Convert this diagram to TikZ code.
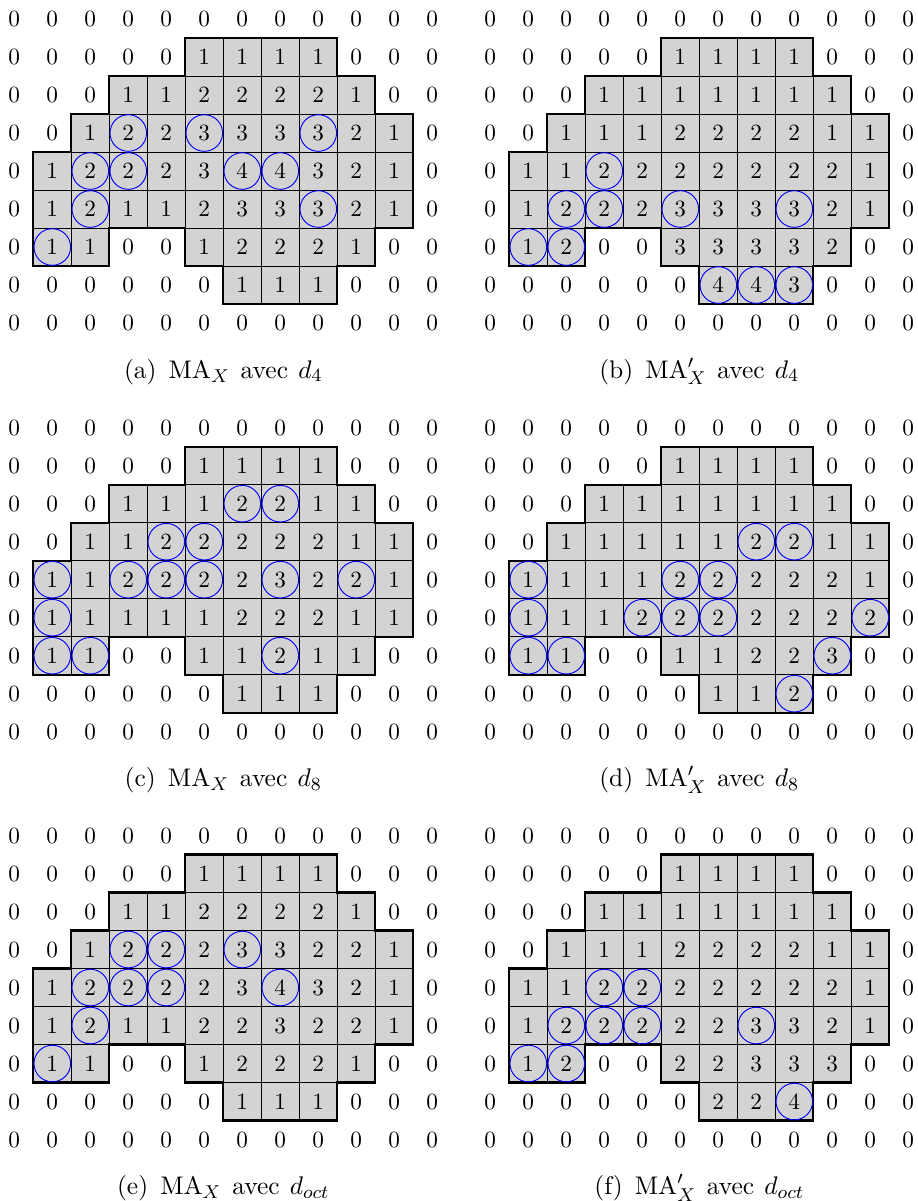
\documentclass[tikz,border=0pt]{standalone}
\usepackage{amsmath}
\definecolor{cellgray}{RGB}{211,211,211}
\tikzset{
  cellbox/.style={fill=cellgray, draw=black, line width=0.4pt},
  outline/.style={draw=black, line width=0.9pt, line join=miter},
  markcirc/.style={draw=blue, line width=0.4pt},
  val/.style={inner sep=0pt, font=\fontsize{10}{12}\selectfont},
  capt/.style={anchor=base, inner sep=0pt, font=\fontsize{10.95}{13.6}\selectfont},
}
\newcommand\capsp[1]{\hspace*{#1}}
\newcommand\gridfig[6]{% #1 id, #2 x, #3 y, #4 data, #5 circles, #6 caption
  \begin{scope}[shift={(#2,#3)}]
    \foreach \rowdata [count=\ri from 0] in {#4} {
      \foreach \v [count=\ci from 0] in \rowdata {
        \ifnum\v>0 \path[cellbox] (\ci-0.5,-\ri-0.5) rectangle (\ci+0.5,-\ri+0.5);\fi
        \node[val] (#1-\ri-\ci) at (\ci,-\ri) {\v};
      }
    }
    \draw[outline] (4.5,-0.5) -- (8.5,-0.5) -- (8.5,-1.5) -- (9.5,-1.5) -- (9.5,-2.5)
      -- (10.5,-2.5) -- (10.5,-5.5) -- (9.5,-5.5) -- (9.5,-6.5) -- (8.5,-6.5)
      -- (8.5,-7.5) -- (5.5,-7.5) -- (5.5,-6.5) -- (4.5,-6.5) -- (4.5,-5.5)
      -- (2.5,-5.5) -- (2.5,-6.5) -- (0.5,-6.5) -- (0.5,-3.5) -- (1.5,-3.5)
      -- (1.5,-2.5) -- (2.5,-2.5) -- (2.5,-1.5) -- (4.5,-1.5) -- cycle;
    \foreach \ri/\ci in {#5} {
      \draw[markcirc] (#1-\ri-\ci.center) circle[radius=7.87pt];
    }
    \node[capt] (#1-cap) at (5.5,-9.45) {#6};
  \end{scope}
}
\begin{document}
\begin{tikzpicture}[x=16.34pt,y=16.34pt]
\useasboundingbox (0,0) rectangle (24.1316,-31.605);
% (a)
\gridfig{a}{0.3763}{-0.5}{
 {0,0,0,0,0,0,0,0,0,0,0,0},
 {0,0,0,0,0,1,1,1,1,0,0,0},
 {0,0,0,1,1,2,2,2,2,1,0,0},
 {0,0,1,2,2,3,3,3,3,2,1,0},
 {0,1,2,2,2,3,4,4,3,2,1,0},
 {0,1,2,1,1,2,3,3,3,2,1,0},
 {0,1,1,0,0,1,2,2,2,1,0,0},
 {0,0,0,0,0,0,1,1,1,0,0,0},
 {0,0,0,0,0,0,0,0,0,0,0,0}}
{3/3,3/5,3/8,4/2,4/3,4/6,4/7,5/2,5/8,6/1}
{(a)\capsp{5.2pt}$\mathrm{MA}_X$\capsp{4.6pt}avec\capsp{4.4pt}$d_4$}
% (b)
\gridfig{b}{12.9026}{-0.5}{
 {0,0,0,0,0,0,0,0,0,0,0,0},
 {0,0,0,0,0,1,1,1,1,0,0,0},
 {0,0,0,1,1,1,1,1,1,1,0,0},
 {0,0,1,1,1,2,2,2,2,1,1,0},
 {0,1,1,2,2,2,2,2,2,2,1,0},
 {0,1,2,2,2,3,3,3,3,2,1,0},
 {0,1,2,0,0,3,3,3,3,2,0,0},
 {0,0,0,0,0,0,4,4,3,0,0,0},
 {0,0,0,0,0,0,0,0,0,0,0,0}}
{4/3,5/2,5/3,5/5,5/8,6/1,6/2,7/6,7/7,7/8}
{(b)\capsp{5.2pt}$\mathrm{MA}'_X$\capsp{4.6pt}avec\capsp{4.4pt}$d_4$}
% (c)
\gridfig{c}{0.3763}{-11.255}{
 {0,0,0,0,0,0,0,0,0,0,0,0},
 {0,0,0,0,0,1,1,1,1,0,0,0},
 {0,0,0,1,1,1,2,2,1,1,0,0},
 {0,0,1,1,2,2,2,2,2,1,1,0},
 {0,1,1,2,2,2,2,3,2,2,1,0},
 {0,1,1,1,1,1,2,2,2,1,1,0},
 {0,1,1,0,0,1,1,2,1,1,0,0},
 {0,0,0,0,0,0,1,1,1,0,0,0},
 {0,0,0,0,0,0,0,0,0,0,0,0}}
{2/6,2/7,3/4,3/5,4/1,4/3,4/4,4/5,4/7,4/9,5/1,6/1,6/2,6/7}
{(c)\capsp{5.2pt}$\mathrm{MA}_X$\capsp{4.6pt}avec\capsp{4.4pt}$d_8$}
% (d)
\gridfig{d}{12.9026}{-11.255}{
 {0,0,0,0,0,0,0,0,0,0,0,0},
 {0,0,0,0,0,1,1,1,1,0,0,0},
 {0,0,0,1,1,1,1,1,1,1,0,0},
 {0,0,1,1,1,1,1,2,2,1,1,0},
 {0,1,1,1,1,2,2,2,2,2,1,0},
 {0,1,1,1,2,2,2,2,2,2,2,0},
 {0,1,1,0,0,1,1,2,2,3,0,0},
 {0,0,0,0,0,0,1,1,2,0,0,0},
 {0,0,0,0,0,0,0,0,0,0,0,0}}
{3/7,3/8,4/1,4/5,4/6,5/1,5/4,5/5,5/6,5/10,6/1,6/2,6/9,7/8}
{(d)\capsp{5.2pt}$\mathrm{MA}'_X$\capsp{4.6pt}avec\capsp{4.4pt}$d_8$}
% (e)
\gridfig{e}{0.3763}{-21.987}{
 {0,0,0,0,0,0,0,0,0,0,0,0},
 {0,0,0,0,0,1,1,1,1,0,0,0},
 {0,0,0,1,1,2,2,2,2,1,0,0},
 {0,0,1,2,2,2,3,3,2,2,1,0},
 {0,1,2,2,2,2,3,4,3,2,1,0},
 {0,1,2,1,1,2,2,3,2,2,1,0},
 {0,1,1,0,0,1,2,2,2,1,0,0},
 {0,0,0,0,0,0,1,1,1,0,0,0},
 {0,0,0,0,0,0,0,0,0,0,0,0}}
{3/3,3/4,3/6,4/2,4/3,4/4,4/7,5/2,6/1}
{(e)\capsp{5.2pt}$\mathrm{MA}_X$\capsp{4.6pt}avec\capsp{4.4pt}$d_{oct}$}
% (f)
\gridfig{f}{12.9026}{-21.987}{
 {0,0,0,0,0,0,0,0,0,0,0,0},
 {0,0,0,0,0,1,1,1,1,0,0,0},
 {0,0,0,1,1,1,1,1,1,1,0,0},
 {0,0,1,1,1,2,2,2,2,1,1,0},
 {0,1,1,2,2,2,2,2,2,2,1,0},
 {0,1,2,2,2,2,2,3,3,2,1,0},
 {0,1,2,0,0,2,2,3,3,3,0,0},
 {0,0,0,0,0,0,2,2,4,0,0,0},
 {0,0,0,0,0,0,0,0,0,0,0,0}}
{4/3,4/4,5/2,5/3,5/4,5/7,6/1,6/2,7/8}
{(f)\capsp{5.2pt}$\mathrm{MA}'_X$\capsp{4.6pt}avec\capsp{4.4pt}$d_{oct}$}
\end{tikzpicture}
\end{document}
